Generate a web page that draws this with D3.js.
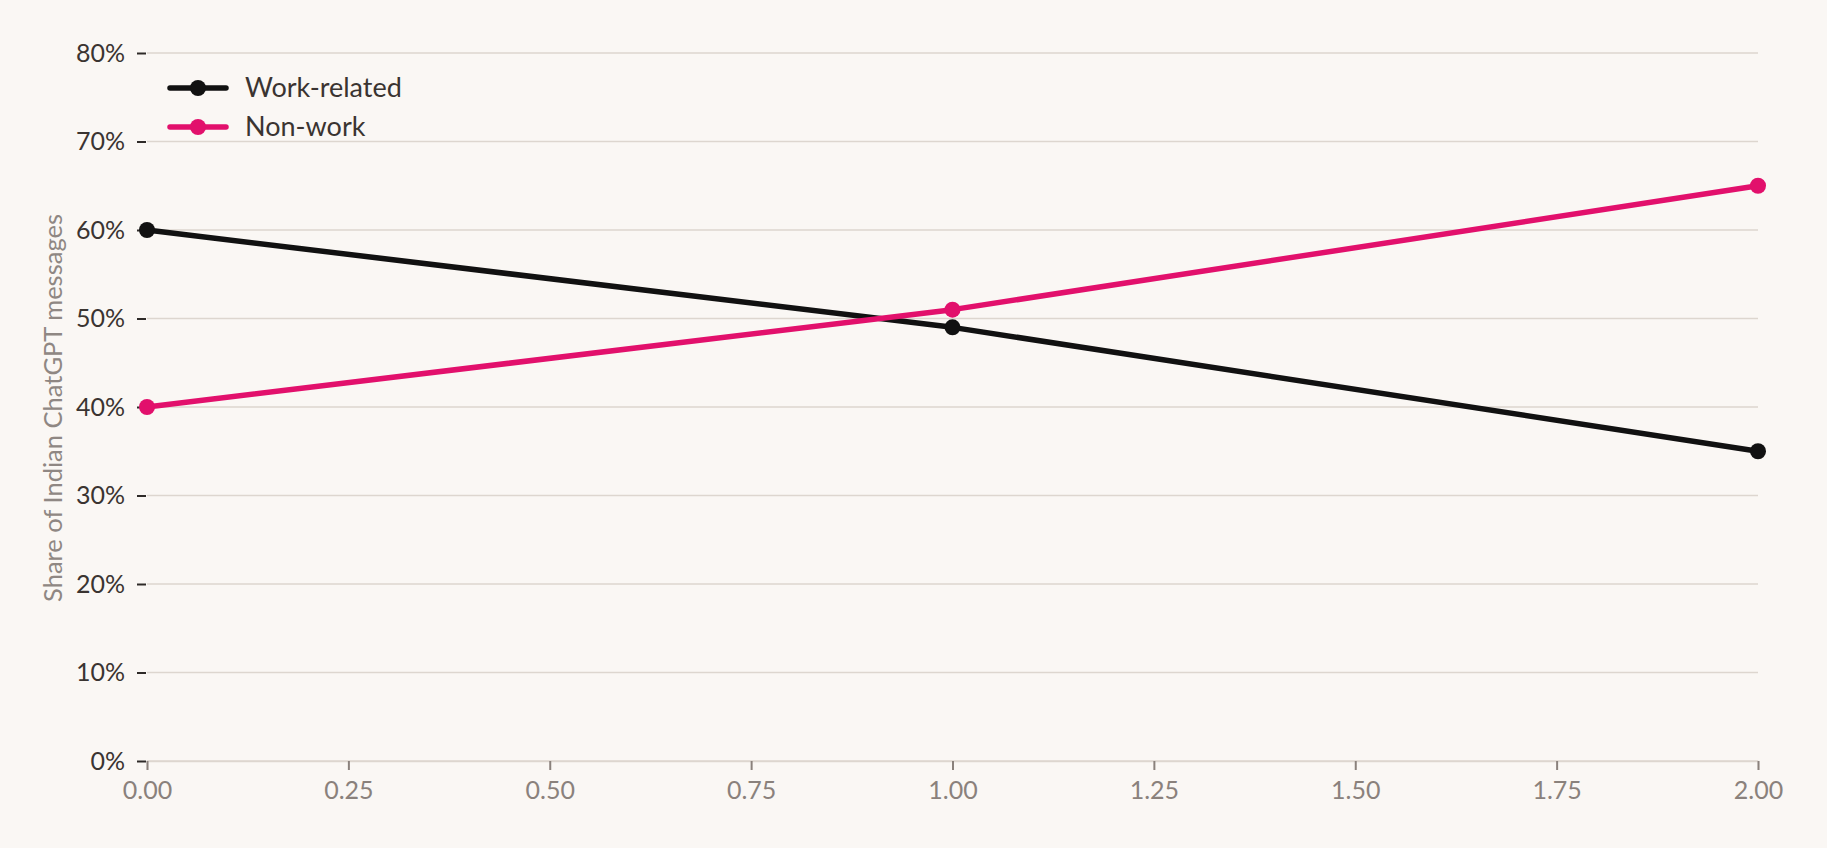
<!DOCTYPE html>
<html><head><meta charset="utf-8">
<script src="https://cdn.jsdelivr.net/npm/d3@7"></script>
<style>
html,body{margin:0;padding:0;background:#faf7f4;}
svg{display:block;font-family:Lato,"Noto Sans",sans-serif;}
</style></head>
<body>
<svg id="chart" width="1827" height="848"></svg>
<script>
const xValues = [0, 1, 2];
const workRelated = [60, 49, 35];
const nonWork = [40, 51, 65];
const seriesNames = ["Work-related", "Non-work"];
const yTicks = [0, 10, 20, 30, 40, 50, 60, 70, 80];
const xTicks = [0, 0.25, 0.5, 0.75, 1, 1.25, 1.5, 1.75, 2];
const yLabel = "Share of Indian ChatGPT messages";

const colors = ["#111111", "#e2106c"];
const svg = d3.select("#chart");
const m = {left: 147, right: 1758, top: 53, bottom: 761};
const x = d3.scaleLinear().domain([0, 2]).range([m.left, m.right]);
const y = d3.scaleLinear().domain([0, 80]).range([m.bottom, m.top]);

// gridlines
svg.append("g").selectAll("line").data(yTicks).join("line")
  .attr("x1", m.left).attr("x2", m.right)
  .attr("y1", d => y(d)).attr("y2", d => y(d))
  .attr("stroke", "#ddd6cf").attr("stroke-width", 1.5);

// y axis
const yAxis = svg.append("g").attr("transform", `translate(${m.left - 1},0)`)
  .call(d3.axisLeft(y).tickValues(yTicks).tickFormat(d => d + "%").tickSize(9).tickPadding(12));
yAxis.select(".domain").remove();
yAxis.selectAll(".tick line").attr("stroke", "#2e2a28").attr("stroke-width", 2);
yAxis.selectAll(".tick text").attr("fill", "#3a3431").style("font-size", "25px").style("font-family", "Lato");

// x axis
const xAxis = svg.append("g").attr("transform", `translate(0,${m.bottom})`)
  .call(d3.axisBottom(x).tickValues(xTicks).tickFormat(d3.format(".2f")).tickSize(9).tickPadding(11));
xAxis.select(".domain").attr("stroke", "#ddd6cf").attr("stroke-width", 1.5);
xAxis.selectAll(".tick line").attr("stroke", "#8a817c").attr("stroke-width", 2);
xAxis.selectAll(".tick text").attr("fill", "#8a817c").style("font-size", "25px").style("font-family", "Lato");

// y label
svg.append("text")
  .attr("transform", `translate(62,408) rotate(-90)`)
  .attr("text-anchor", "middle")
  .attr("fill", "#8f8783")
  .style("font-size", "25.5px")
  .text(yLabel);

// lines
const series = [workRelated, nonWork];
const line = d3.line().x((d, i) => x(xValues[i])).y(d => y(d));
series.forEach((s, k) => {
  svg.append("path").datum(s).attr("d", line)
    .attr("fill", "none").attr("stroke", colors[k]).attr("stroke-width", 5.5)
    .attr("stroke-linejoin", "round");
  svg.append("g").selectAll("circle").data(s).join("circle")
    .attr("cx", (d, i) => x(xValues[i])).attr("cy", d => y(d))
    .attr("r", 8).attr("fill", colors[k]);
});

// legend
const lg = svg.append("g");
seriesNames.forEach((name, k) => {
  const ly = 88 + k * 39;
  lg.append("line").attr("x1", 170).attr("x2", 226).attr("y1", ly).attr("y2", ly)
    .attr("stroke", colors[k]).attr("stroke-width", 5.5).attr("stroke-linecap", "round");
  lg.append("circle").attr("cx", 198).attr("cy", ly).attr("r", 8).attr("fill", colors[k]);
  lg.append("text").attr("x", 245).attr("y", ly).attr("dy", "0.35em")
    .attr("fill", "#3a3431").style("font-size", "27px").text(name);
});
</script>
</body></html>
